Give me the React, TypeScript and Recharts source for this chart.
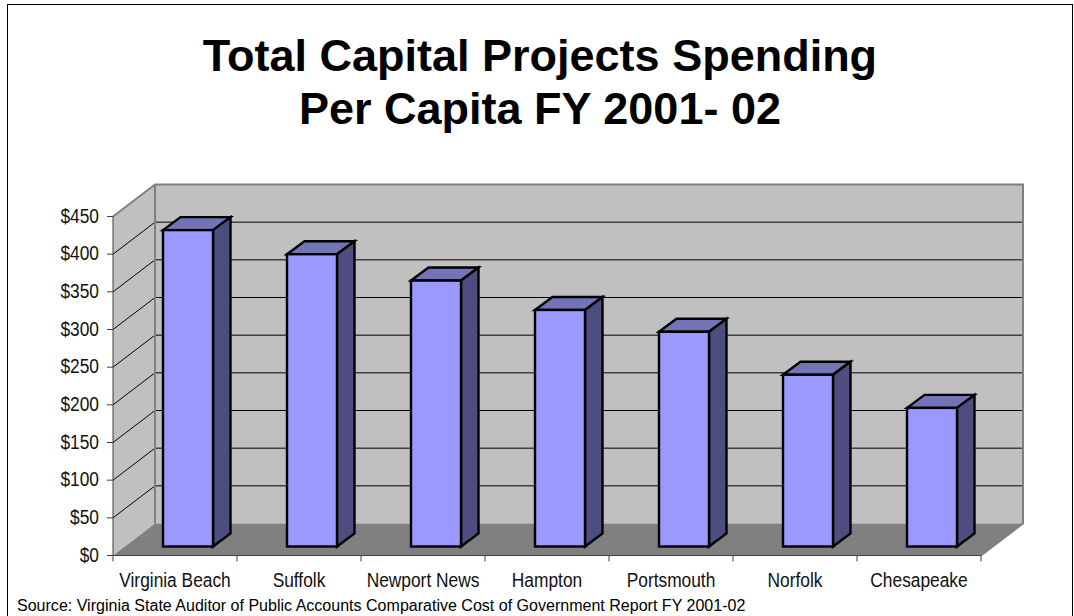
import React from "react";
import { BarChart, Bar, XAxis, YAxis, usePlotArea } from "recharts";

const cities = ["Virginia Beach", "Suffolk", "Newport News", "Hampton", "Portsmouth", "Norfolk", "Chesapeake"];
const spending = [420, 388, 353, 314, 285, 228, 184];
const yTicks = [0, 50, 100, 150, 200, 250, 300, 350, 400, 450];

const data = cities.map((city, i) => ({ city, spending: spending[i] }));

const WALL_DX = 42;
const WALL_DY = 32;
const sans = '"Liberation Sans", Arial, sans-serif';

// no narrow font on the box, so squeeze the regular one
const NarrowTick = ({ x, y, payload, anchor, dx = 0, dy, format }: any) => (
  <text
    transform={`translate(${x + dx},${y + dy}) scale(0.89,1)`}
    textAnchor={anchor}
    fontFamily={sans}
    fontSize={19.5}
    fill="#111"
  >
    {format ? format(payload.value) : payload.value}
  </text>
);

// walls, floor and grid of the fake 3d box, sits behind the bars
const Box3D = () => {
  const plot = usePlotArea();
  if (!plot) return null;
  const { x, y, width, height } = plot;
  const right = x + width;
  const bottom = y + height;
  const top = y;
  const band = width / cities.length;
  const yOf = (v: number) => bottom - (v / 450) * height;

  return (
    <g>
      <rect x={x + WALL_DX} y={top - WALL_DY} width={width} height={height} fill="#c0c0c0" />
      <polygon
        points={`${x},${top} ${x + WALL_DX},${top - WALL_DY} ${x + WALL_DX},${bottom - WALL_DY} ${x},${bottom}`}
        fill="#c0c0c0"
      />
      <polygon
        points={`${x},${bottom} ${x + WALL_DX},${bottom - WALL_DY} ${right + WALL_DX},${bottom - WALL_DY} ${right},${bottom}`}
        fill="#808080"
      />
      {yTicks.slice(1, -1).map((t) => (
        <g key={t} stroke="#000" strokeWidth={1}>
          <line x1={x} y1={yOf(t)} x2={x + WALL_DX} y2={yOf(t) - WALL_DY} />
          <line x1={x + WALL_DX} y1={yOf(t) - WALL_DY} x2={right + WALL_DX} y2={yOf(t) - WALL_DY} />
        </g>
      ))}
      <polyline
        points={`${x},${top} ${x + WALL_DX},${top - WALL_DY} ${right + WALL_DX},${top - WALL_DY} ${right + WALL_DX},${bottom - WALL_DY} ${right},${bottom}`}
        fill="none"
        stroke="#808080"
        strokeWidth={2}
      />
      <line x1={x + WALL_DX} y1={top - WALL_DY} x2={x + WALL_DX} y2={bottom - WALL_DY} stroke="#808080" strokeWidth={2} />
      {cities.map((c, i) => (
        <line key={c} x1={x + band * i} y1={bottom} x2={x + band * i} y2={bottom + 6} stroke="#404040" />
      ))}
      <line x1={right} y1={bottom} x2={right} y2={bottom + 6} stroke="#404040" />
    </g>
  );
};

// front, top and side faces of one column
const Column3D = (props: any) => {
  const { x, y, width, height } = props;
  const fx = x + 13;
  const fy = y - 9;
  const dx = 17.5;
  const dy = 13;
  return (
    <g stroke="#000" strokeWidth={2.4} strokeLinejoin="miter">
      <polygon
        points={`${fx},${fy} ${fx + dx},${fy - dy} ${fx + width + dx},${fy - dy} ${fx + width},${fy}`}
        fill="#7373b8"
      />
      <polygon
        points={`${fx + width},${fy} ${fx + width + dx},${fy - dy} ${fx + width + dx},${fy + height - dy} ${fx + width},${fy + height}`}
        fill="#4d4d80"
      />
      <rect x={fx} y={fy} width={width} height={height} fill="#9999ff" />
    </g>
  );
};

export default function App() {
  return (
    <div style={{ position: "absolute", left: 0, top: 0, width: 1074, height: 616, background: "#fff", overflow: "hidden" }}>
      <div style={{ position: "absolute", left: 7, top: 4, width: 1064, height: 640, border: "1px solid #000" }} />
      <div
        style={{
          position: "absolute",
          left: 0,
          top: 29,
          width: 1080,
          textAlign: "center",
          fontFamily: sans,
          fontWeight: 700,
          fontSize: 45,
          lineHeight: "53px",
          color: "#000",
        }}
      >
        Total Capital Projects Spending
        <br />
        Per Capita FY 2001- 02
      </div>
      <div style={{ position: "absolute", left: 0, top: 0 }}>
        <BarChart
          width={1074}
          height={616}
          data={data}
          margin={{ top: 216.5, right: 93, bottom: 20.5, left: 53 }}
        >
          <Box3D />
          <XAxis
            dataKey="city"
            interval={0}
            axisLine={{ stroke: "#404040", strokeWidth: 1 }}
            tickLine={false}
            height={40}
            tick={<NarrowTick anchor="middle" dy={23} />}
          />
          <YAxis
            type="number"
            domain={[0, 450]}
            ticks={yTicks}
            interval={0}
            width={60}
            axisLine={{ stroke: "#404040", strokeWidth: 1 }}
            tickLine={{ stroke: "#404040" }}
            tickSize={6}
            tick={<NarrowTick anchor="end" dx={-6} dy={6} format={(v: number) => `$${v}`} />}
          />
          <Bar dataKey="spending" barSize={50} isAnimationActive={false} shape={<Column3D />} />
        </BarChart>
      </div>
      <div
        style={{
          position: "absolute",
          left: 17,
          top: 596,
          fontFamily: sans,
          fontSize: 16.05,
          lineHeight: "18px",
          color: "#000",
          whiteSpace: "nowrap",
        }}
      >
        Source: Virginia State Auditor of Public Accounts Comparative Cost of Government Report FY 2001-02
      </div>
    </div>
  );
}
